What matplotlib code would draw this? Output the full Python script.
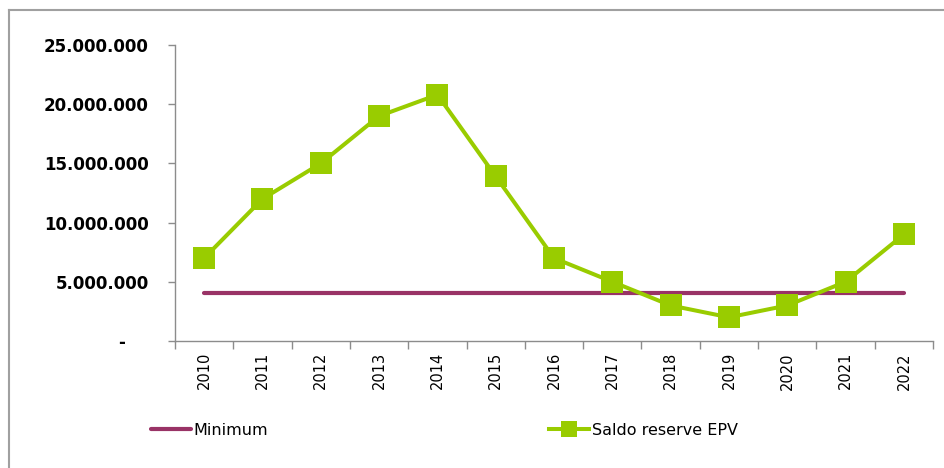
import matplotlib
matplotlib.use("Agg")
import matplotlib.pyplot as plt
from matplotlib.lines import Line2D
from matplotlib.ticker import FuncFormatter

years = ["2010", "2011", "2012", "2013", "2014", "2015", "2016",
         "2017", "2018", "2019", "2020", "2021", "2022"]
saldo = [7000000, 12000000, 15000000, 19000000, 20800000, 13900000, 7000000,
         5000000, 3000000, 2000000, 3000000, 5000000, 9000000]
minimum = [4050000] * len(years)
y_ticks = [0, 5000000, 10000000, 15000000, 20000000, 25000000]

green = "#99cc00"
maroon = "#993366"
grey = "#8c8c8c"

fig = plt.figure(figsize=(9.44, 4.68), dpi=100)
ax = fig.add_axes([0.1854, 0.2714, 0.803, 0.6324])

x = list(range(len(years)))
ax.plot(x, minimum, color=maroon, lw=3, solid_capstyle="round", zorder=2)
ax.plot(x, saldo, color=green, lw=2.9, marker="s", markersize=15.5,
        markeredgewidth=0, zorder=3)

ax.set_xlim(-0.5, len(years) - 0.5)
ax.set_ylim(0, 25000000)
ax.set_yticks(y_ticks)

def fmt(v, pos):
    if v == 0:
        return "-    "
    return "{:,.0f}".format(v).replace(",", ".")

ax.yaxis.set_major_formatter(FuncFormatter(fmt))

# category boundaries as ticks, labels in the middle
ax.set_xticks([i - 0.5 for i in range(len(years) + 1)])
ax.set_xticklabels([])
ax.set_xticks(x, minor=True)
ax.set_xticklabels(years, minor=True, rotation=90, fontsize=10.5)
ax.tick_params(axis="x", which="major", length=6, color=grey, width=1)
ax.tick_params(axis="x", which="minor", length=0, pad=8)
ax.tick_params(axis="y", length=5, color=grey, width=1, pad=14)
for lab in ax.get_yticklabels():
    lab.set_fontweight("bold")
    lab.set_fontsize(12)

for s in ["top", "right"]:
    ax.spines[s].set_visible(False)
for s in ["left", "bottom"]:
    ax.spines[s].set_color(grey)
    ax.spines[s].set_linewidth(1)

h1 = Line2D([], [], color=maroon, lw=3, solid_capstyle="round")
h2 = Line2D([], [], color=green, lw=2.9, marker="s", markersize=11.5,
            markeredgewidth=0)
fig.legend([h1, h2], ["Minimum", "Saldo reserve EPV"], ncol=2,
           loc="center left", bbox_to_anchor=(0.145, 0.08), frameon=False,
           fontsize=11.5, handlelength=2.5, handletextpad=0.15,
           columnspacing=17.6)

# outer chart border
fig.add_artist(Line2D([0.0095, 0.0095], [0, 0.979], color="#a0a0a0", lw=1.5))
fig.add_artist(Line2D([0.0095, 1], [0.979, 0.979], color="#a0a0a0", lw=1.5))

fig.savefig("out.png", dpi=100)
